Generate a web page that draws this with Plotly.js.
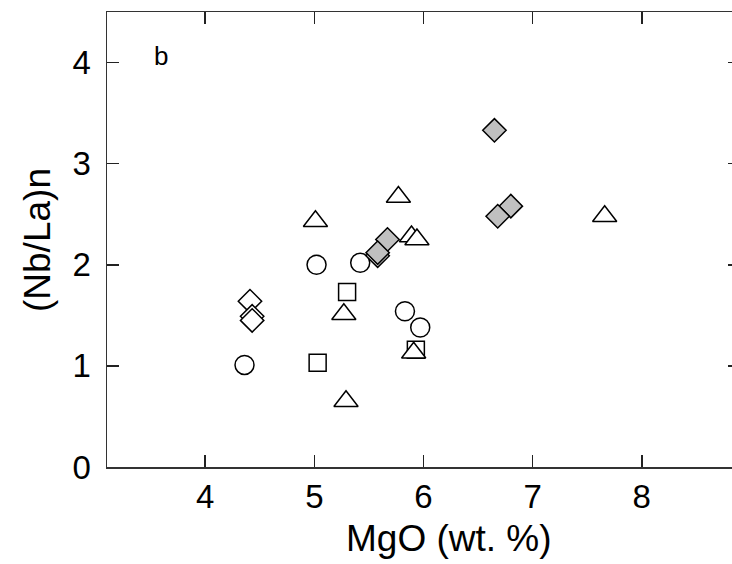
<!DOCTYPE html>
<html>
<head>
<meta charset="utf-8">
<script src="https://cdn.plot.ly/plotly-3.0.1.min.js"></script>
<style>
html,body{margin:0;padding:0;overflow:hidden;background:#fff;}
#chart{width:750px;height:564px;}
</style>
</head>
<body>
<div id="chart"></div>
<script>
// MgO (wt. %) vs (Nb/La)n
var circleX = [4.36, 5.02, 5.42, 5.83, 5.97];
var circleY = [1.01, 2.00, 2.02, 1.54, 1.38];
var squareX = [5.03, 5.30, 5.93];
var squareY = [1.03, 1.73, 1.16];
var triX = [5.01, 5.77, 5.89, 5.94, 5.27, 5.91, 5.29, 7.66];
var triY = [2.43, 2.67, 2.28, 2.25, 1.51, 1.13, 0.65, 2.48];
var openDiaX = [4.41, 4.43, 4.43, 5.58];
var openDiaY = [1.64, 1.49, 1.45, 2.09];
var grayDiaX = [5.67, 5.58, 6.65, 6.80, 6.68];
var grayDiaY = [2.25, 2.12, 3.33, 2.58, 2.48];
var xTicks = [4, 5, 6, 7, 8];
var yTicks = [0, 1, 2, 3, 4];
var xTitle = 'MgO (wt. %)';
var yTitle = '(Nb/La)n';
var panelLabel = 'b';

var lineStyle = {color: '#000', width: 1.5};
function series(x, y, symbol, size, fill) {
  return {
    x: x, y: y, type: 'scatter', mode: 'markers', cliponaxis: false,
    marker: {symbol: symbol, size: size, color: fill, line: lineStyle},
    hoverinfo: 'x+y'
  };
}
var data = [
  series(circleX, circleY, 'circle', 19, '#ffffff'),
  series(squareX, squareY, 'square', 17, '#ffffff'),
  series(triX, triY, 'triangle-up', 21, '#ffffff'),
  series(openDiaX, openDiaY, 'diamond', 18, '#ffffff'),
  series(grayDiaX, grayDiaY, 'diamond', 18, '#c0c0c0')
];

var font = 'Liberation Sans, Arial, sans-serif';
var L = 107, R = 10, T = 12, B = 97, W = 750, H = 564;
var pw = W - L - R, ph = H - T - B;
function px(xp) { return (xp - L) / pw; }
function py(yp) { return (H - B - yp) / ph; }
var layout = {
  width: W, height: H,
  margin: {l: L, r: R, t: T, b: B},
  paper_bgcolor: '#fff', plot_bgcolor: '#fff',
  showlegend: false,
  font: {family: font, color: '#000'},
  xaxis: {
    range: [3.1, 8.9], tickvals: xTicks, ticktext: xTicks.map(String),
    ticks: 'inside', ticklen: 12, tickwidth: 1.5, tickcolor: '#222',
    showline: true, linecolor: '#333', linewidth: 1.5, mirror: 'ticks',
    showgrid: false, zeroline: false,
    tickfont: {size: 33, family: font, color: '#000'},
    ticklabelstandoff: 0
  },
  yaxis: {
    range: [0, 4.5], tickvals: yTicks, ticktext: yTicks.map(String),
    ticks: 'inside', ticklen: 12, tickwidth: 1.5, tickcolor: '#222',
    showline: true, linecolor: '#333', linewidth: 1.5, mirror: 'ticks',
    showgrid: false, zeroline: false,
    tickfont: {size: 33, family: font, color: '#000'},
    ticklabelstandoff: 8
  },
  annotations: [
    {x: px(449), y: py(538.5), xref: 'paper', yref: 'paper', text: xTitle, showarrow: false,
     xanchor: 'center', yanchor: 'middle', font: {size: 37, family: font, color: '#000'}},
    {x: px(37), y: py(240), xref: 'paper', yref: 'paper', text: yTitle, showarrow: false,
     textangle: -90, xanchor: 'center', yanchor: 'middle', font: {size: 37, family: font, color: '#000'}},
    {x: px(160.7), y: py(55.7), xref: 'paper', yref: 'paper', text: panelLabel, showarrow: false,
     xanchor: 'center', yanchor: 'middle', font: {size: 26, family: font, color: '#000'}}
  ]
};
Plotly.newPlot('chart', data, layout, {displayModeBar: false, staticPlot: true});
</script>
</body>
</html>
